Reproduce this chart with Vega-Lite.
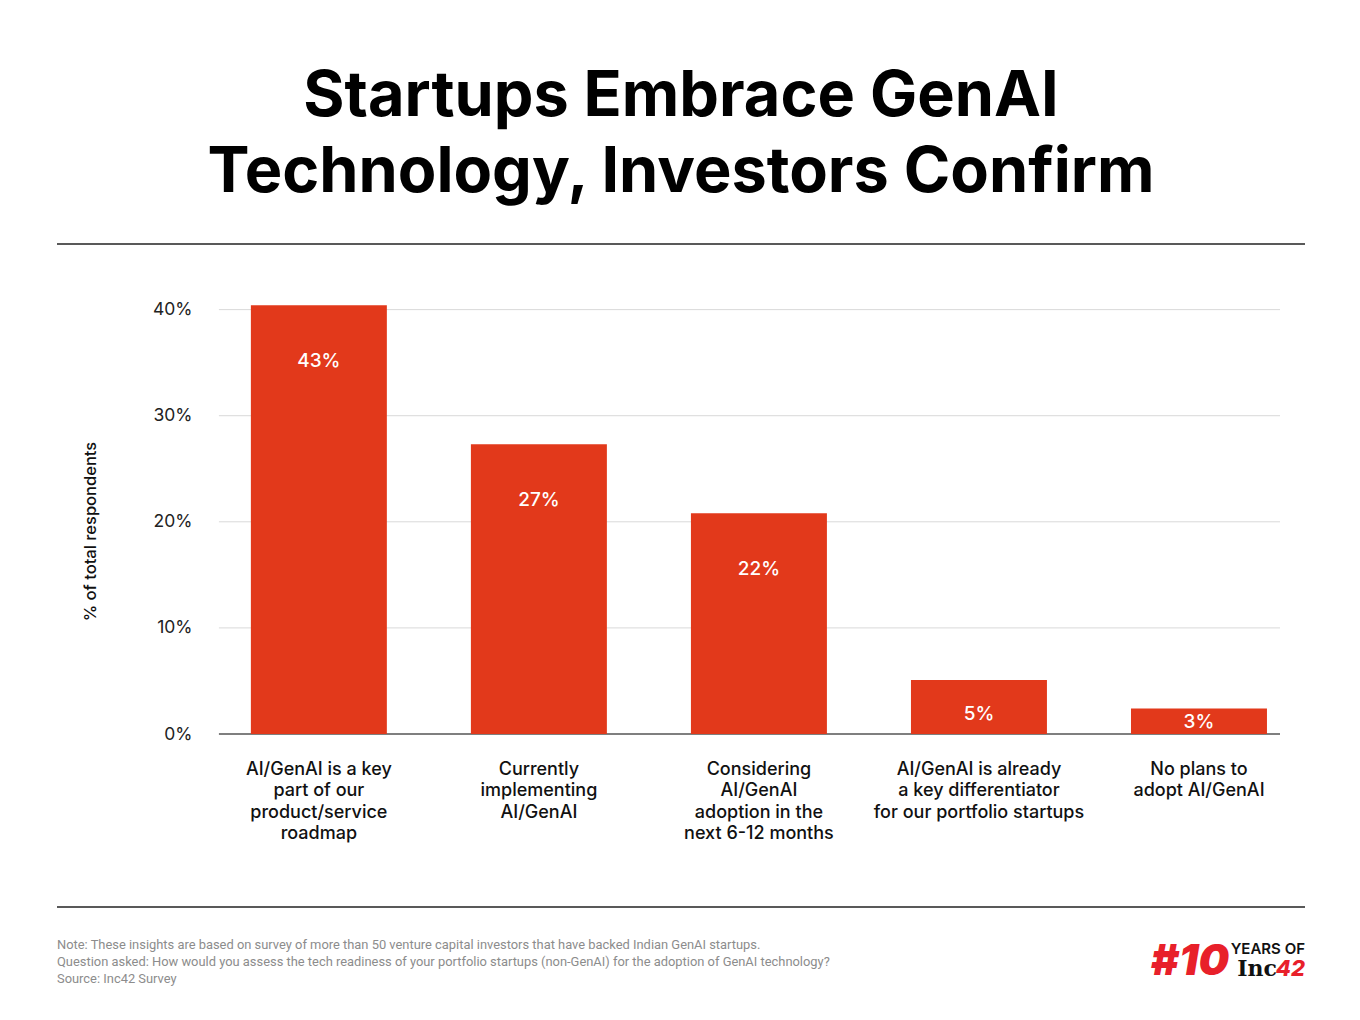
{
  "$schema": "https://vega.github.io/schema/vega-lite/v6.json",
  "background": "white",
  "padding": {"left": 56, "right": 56, "top": 66, "bottom": 10},
  "config": {"view": {"stroke": null}, "font": "Inter"},
  "title": {
    "text": ["Startups Embrace GenAI", "Technology, Investors Confirm"],
    "fontSize": 63,
    "font": "Inter",
    "fontWeight": 700,
    "lineHeight": 76,
    "color": "#000000",
    "anchor": "middle",
    "offset": 38
  },
  "datasets": {
    "bars": [
      {"category": "AI/GenAI is a key|part of our|product/service|roadmap", "value": 40.4, "label": "43%"},
      {"category": "Currently|implementing|AI/GenAI", "value": 27.3, "label": "27%"},
      {"category": "Considering|AI/GenAI|adoption in the|next 6-12 months", "value": 20.8, "label": "22%"},
      {"category": "AI/GenAI is already|a key differentiator|for our portfolio startups", "value": 5.1, "label": "5%"},
      {"category": "No plans to|adopt AI/GenAI", "value": 2.4, "label": "3%"}
    ],
    "grid": [{"tick": 0}, {"tick": 10}, {"tick": 20}, {"tick": 30}, {"tick": 40}]
  },
  "spacing": 54,
  "vconcat": [
    {
      "width": 1248,
      "height": 1,
      "data": {"values": [{}]},
      "mark": {"type": "rule", "color": "#222222", "strokeWidth": 1.5},
      "encoding": {
        "y": {"datum": 0, "type": "quantitative", "scale": {"domain": [0, 1]}, "axis": null}
      }
    },
    {
      "width": 1248,
      "height": 435,
      "data": {"name": "bars"},
      "encoding": {
        "x": {
          "field": "category",
          "type": "nominal",
          "sort": null,
          "title": null,
          "scale": {
            "domain": ["AI/GenAI is a key|part of our|product/service|roadmap", "Currently|implementing|AI/GenAI", "Considering|AI/GenAI|adoption in the|next 6-12 months", "AI/GenAI is already|a key differentiator|for our portfolio startups", "No plans to|adopt AI/GenAI"],
            "paddingInner": 0.382, "paddingOuter": 0.527, "align": 0.836
          },
          "axis": {
            "labelAngle": 0,
            "labelExpr": "split(datum.label, '|')",
            "labelFont": "Inter",
            "labelFontSize": 18,
            "labelFontWeight": 500,
            "labelColor": "#111111",
            "labelLineHeight": 21.5,
            "labelPadding": 26,
            "labelLimit": 400,
            "ticks": false,
            "tickSize": 0,
            "domain": false
          }
        },
        "y": {
          "field": "value",
          "type": "quantitative",
          "title": "% of total respondents",
          "scale": {"domain": [0, 41], "nice": false},
          "axis": {
            "values": [0, 10, 20, 30, 40],
            "labelExpr": "datum.value + '%'",
            "labelFont": "Inter",
            "labelFontSize": 17.5,
            "labelColor": "#222222",
            "labelPadding": 27,
            "ticks": false,
            "domain": false,
            "grid": false,
            "offset": -162,
            "titleFont": "Inter",
            "titleFontSize": 16.5,
            "titleFontWeight": 500,
            "titleColor": "#111111",
            "titlePadding": 54,
            "titleY": 232
          }
        }
      },
      "layer": [
        {
          "data": {"name": "grid"},
          "transform": [{"filter": "datum.tick > 0"}],
          "mark": {"type": "rule", "color": "#d9d9d9", "strokeWidth": 1},
          "encoding": {
            "x": {"datum": "AI/GenAI is a key|part of our|product/service|roadmap", "type": "nominal", "bandPosition": -0.235},
            "x2": {"datum": "No plans to|adopt AI/GenAI", "bandPosition": 1.096},
            "y": {"field": "tick", "type": "quantitative", "title": "% of total respondents"}
          }
        },
        {
          "data": {"name": "grid"},
          "transform": [{"filter": "datum.tick == 0"}],
          "mark": {"type": "rule", "color": "#555555", "strokeWidth": 1.3},
          "encoding": {
            "x": {"datum": "AI/GenAI is a key|part of our|product/service|roadmap", "type": "nominal", "bandPosition": -0.235},
            "x2": {"datum": "No plans to|adopt AI/GenAI", "bandPosition": 1.096},
            "y": {"field": "tick", "type": "quantitative", "title": "% of total respondents"}
          }
        },
        {"mark": {"type": "bar", "color": "#E2391B"}},
        {
          "transform": [{"filter": "datum.value > 10"}],
          "mark": {"type": "text", "color": "white", "font": "Inter", "fontSize": 19, "fontWeight": 500, "baseline": "middle", "dy": 56},
          "encoding": {"text": {"field": "label"}}
        },
        {
          "transform": [{"filter": "datum.label == '5%'"}],
          "mark": {"type": "text", "color": "white", "font": "Inter", "fontSize": 19, "fontWeight": 500, "baseline": "middle", "dy": 34},
          "encoding": {"text": {"field": "label"}}
        },
        {
          "transform": [{"filter": "datum.label == '3%'"}],
          "mark": {"type": "text", "color": "white", "font": "Inter", "fontSize": 19, "fontWeight": 500, "baseline": "middle", "dy": 13},
          "encoding": {"text": {"field": "label"}}
        }
      ]
    },
    {
      "width": 1248,
      "height": 90,
      "data": {"values": [{}]},
      "layer": [
        {
          "mark": {"type": "rule", "color": "#222222", "strokeWidth": 1.5},
          "encoding": {
            "y": {"datum": 80, "type": "quantitative", "scale": {"domain": [0, 90]}, "axis": null}
          }
        },
        {
          "mark": {"type": "text", "align": "left", "baseline": "top", "dy": 31.5, "font": "Roboto", "fontSize": 12.9, "lineHeight": 17, "color": "#8c8c8c",
            "text": ["Note: These insights are based on survey of more than 50 venture capital investors that have backed Indian GenAI startups.", "Question asked: How would you assess the tech readiness of your portfolio startups (non-GenAI) for the adoption of GenAI technology?", "Source: Inc42 Survey"]},
          "encoding": {
            "x": {"datum": 0, "type": "quantitative", "scale": {"domain": [0, 1]}, "axis": null},
            "y": {"datum": 80, "type": "quantitative", "axis": null}
          }
        },
        {
          "mark": {"type": "text", "align": "right", "baseline": "top", "dy": 35, "font": "Inter", "fontSize": 15, "fontWeight": 600, "color": "#111111", "text": "YEARS OF"},
          "encoding": {
            "x": {"datum": 1, "type": "quantitative", "axis": null},
            "y": {"datum": 80, "type": "quantitative", "axis": null}
          }
        },
        {
          "mark": {"type": "text", "align": "right", "baseline": "top", "dy": 52, "dx": -28, "font": "DejaVu Serif", "fontSize": 22, "fontWeight": 700, "color": "#111111", "text": "Inc"},
          "encoding": {
            "x": {"datum": 1, "type": "quantitative", "axis": null},
            "y": {"datum": 80, "type": "quantitative", "axis": null}
          }
        },
        {
          "mark": {"type": "text", "align": "right", "baseline": "top", "dy": 52, "font": "Inter", "fontSize": 22, "fontWeight": 800, "fontStyle": "italic", "color": "#E8202A", "text": "42"},
          "encoding": {
            "x": {"datum": 1, "type": "quantitative", "axis": null},
            "y": {"datum": 80, "type": "quantitative", "axis": null}
          }
        },
        {
          "mark": {"type": "text", "align": "right", "baseline": "top", "dy": 34, "dx": -76, "font": "Inter", "fontSize": 43, "fontWeight": 900, "fontStyle": "italic", "color": "#E8202A", "text": "#10"},
          "encoding": {
            "x": {"datum": 1, "type": "quantitative", "axis": null},
            "y": {"datum": 80, "type": "quantitative", "axis": null}
          }
        }
      ]
    }
  ]
}
